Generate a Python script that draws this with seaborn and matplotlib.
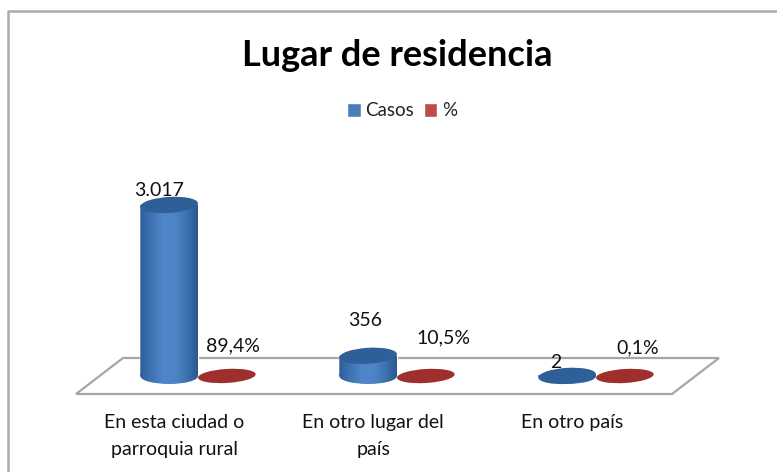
import numpy as np
import pandas as pd
import matplotlib
matplotlib.use("Agg")
import matplotlib.pyplot as plt
import seaborn as sns
from matplotlib.patches import Ellipse, PathPatch, Polygon, Rectangle
from matplotlib.lines import Line2D
from matplotlib.path import Path
from matplotlib.transforms import Affine2D
from matplotlib.colors import LinearSegmentedColormap

categories = ["En esta ciudad o\nparroquia rural", "En otro lugar del\npaís", "En otro país"]
casos = [3017, 356, 2]
porcentaje = [0.894, 0.105, 0.001]
casos_labels = ["3.017", "356", "2"]
pct_labels = ["89,4%", "10,5%", "0,1%"]
series_names = ["Casos", "%"]
title = "Lugar de residencia"

sns.set_theme(style="white")
plt.rcParams["font.family"] = ["Lato", "DejaVu Sans"]

W, H = 777, 472
BLUE, RED = "#4A7EBB", "#BE4B48"
BLUE_TOP, RED_TOP = "#2F5F98", "#9E2F2C"

df = pd.DataFrame({
    "cat": categories * 2,
    "serie": [series_names[0]] * 3 + [series_names[1]] * 3,
    "valor": casos + porcentaje,
})

fig = plt.figure(figsize=(W / 100, H / 100), dpi=100, facecolor="white")
AX_BOTTOM = 397
ax = fig.add_axes([0, 1 - AX_BOTTOM / H, 1, AX_BOTTOM / H])
ax.set_facecolor("none")
ax.set_zorder(2)

sns.barplot(data=df, x="cat", y="valor", hue="serie", order=categories,
            hue_order=series_names, palette=[BLUE, RED], width=0.58, gap=0,
            dodge=True, saturation=1, ax=ax, zorder=3, legend=True)

# scales: group spacing 199 px, first group at 198 px; baseline 376 px, 0.0567 px per case
PXX = 199.0
X0 = 198.0
PXV = 0.0567
Y0 = 376.0
XLIM = (-X0 / PXX, (W - X0) / PXX)
YLIM = ((Y0 - AX_BOTTOM) / PXV, Y0 / PXV)
ax.set_xlim(*XLIM)
ax.set_ylim(*YLIM)


def fig_poly(pts, **kw):
    fig.add_artist(Polygon([(x / W, 1 - y / H) for x, y in pts], transform=fig.transFigure, **kw))


def tilted(cx, cy, deg):
    # rotate in display space about the ellipse centre, so the data scales stay untouched
    px, py = ax.transData.transform((cx, cy))
    return ax.transData + Affine2D().rotate_deg_around(px, py, deg)


# outer frame: only the top and left edges fall inside the picture
fig.add_artist(Line2D([8 / W, 8 / W, 1], [0, 1 - 11 / H, 1 - 11 / H], transform=fig.transFigure,
                      color="#ABABAB", lw=1.8, zorder=0))
# floor
fig_poly([(76, 394), (123, 358), (719, 358), (672, 394)], closed=True, fill=True, fc="white",
         ec="#A6A6A6", lw=1.6, zorder=1)

eh = 16 / PXV
TILT = 3.5
gcm = LinearSegmentedColormap.from_list(
    "cyl", ["#2E5E98", "#3F74B4", "#4F86C8", "#4F85C6", "#3F73B2", "#2A5990"])

patches = [p for p in ax.patches if isinstance(p, Rectangle)]
blue_bars = patches[:3]
red_bars = patches[3:6]

for k, bar in enumerate(blue_bars):
    cx = bar.get_x() + bar.get_width() / 2
    h = bar.get_height()
    w = bar.get_width()
    base = Ellipse((cx, 0), w, eh)
    body = Path.make_compound_path(
        Path([(cx - w / 2, 0), (cx + w / 2, 0), (cx + w / 2, h), (cx - w / 2, h), (cx - w / 2, 0)], closed=True),
        base.get_path().transformed(base.get_patch_transform()),
    )
    clip = PathPatch(body, transform=ax.transData, fc="none", ec="none", zorder=3)
    ax.add_patch(clip)
    grad = np.linspace(0, 1, 128)[None, :]
    im = ax.imshow(grad, cmap=gcm, extent=[cx - w / 2, cx + w / 2, -eh / 2, h],
                   aspect="auto", zorder=3.2, origin="lower")
    im.set_clip_path(clip)
    ax.set_xlim(*XLIM)
    ax.set_ylim(*YLIM)
    ax.add_patch(Ellipse((cx, h), w, eh, fc=BLUE_TOP, ec="none", zorder=3.4,
                         transform=tilted(cx, h, TILT)))

for bar in red_bars:
    cx = bar.get_x() + bar.get_width() / 2
    h = bar.get_height()
    ax.add_patch(Ellipse((cx, h), bar.get_width(), 14 / PXV, fc=RED_TOP, ec="none", zorder=3.6,
                         transform=tilted(cx, h, TILT)))

# axes dressing
for s in ax.spines.values():
    s.set_visible(False)
ax.set_xlabel("")
ax.set_ylabel("")
ax.set_yticks([])
ax.set_xticks([i - 0.12 for i in range(3)])
ax.set_xticklabels(categories, fontsize=14, color="#111111", linespacing=1.72)
ax.tick_params(axis="x", length=0, pad=12.5)

# value labels
lab_px = [(159, 190), (365, 320), (556, 362), (233, 346), (443, 338), (638, 348)]
for (x, y), s in zip(lab_px, casos_labels + pct_labels):
    fig.text(x / W, 1 - y / H, s, ha="center", va="center", fontsize=14, color="#111111", zorder=5)

fig.text(397.5 / W, 1 - 55 / H, title, ha="center", va="center", fontsize=26, fontweight="bold", color="black")

handles, labels = ax.get_legend_handles_labels()
ax.legend_.remove()
leg = fig.legend(handles, labels, loc="center", bbox_to_anchor=(402 / W, 1 - 111 / H), ncols=2,
                 frameon=False, fontsize=13.5, handlelength=0.72, handleheight=0.72,
                 handletextpad=0.25, columnspacing=0.5, labelcolor="#222222")

fig.savefig("out.png", dpi=100)
